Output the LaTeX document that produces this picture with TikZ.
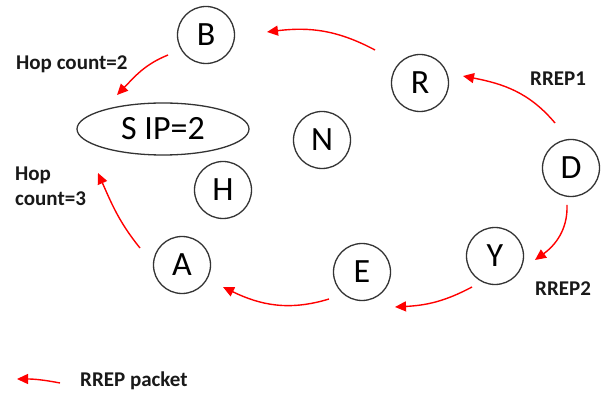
\documentclass[tikz,border=0pt]{standalone}
\usepackage{fontspec}
\setmainfont{Carlito}
\usetikzlibrary{arrows.meta,shapes.geometric,calc}
\begin{document}
\begin{tikzpicture}[x=1pt,y=1pt,
  peer/.style={circle,draw=black!80,line width=1.3pt,minimum size=57pt,inner sep=0pt,
    font=\fontsize{34}{34}\selectfont},
  src/.style={ellipse,draw=black!80,line width=1.3pt,minimum width=172pt,minimum height=52pt,
    inner sep=0pt,font=\fontsize{34}{34}\selectfont},
  tag/.style={font=\bfseries\fontsize{21}{25}\selectfont,text=black!90,inner sep=0pt},
  rrep/.style={draw=red,line width=1.4pt,-{Triangle[length=11pt,width=10pt]}}]
\useasboundingbox (0,0) rectangle (602,-395);

% nodes of the network
\node[peer] (B) at (206,-35)  {B};
\node[peer] (R) at (420,-83)  {R};
\node[peer] (N) at (322,-140) {N};
\node[peer] (D) at (571,-168) {D};
\node[peer] (H) at (223,-190) {H};
\node[peer] (Y) at (495,-256) {Y};
\node[peer] (E) at (362,-272) {E};
\node[peer] (A) at (182,-265) {A};
\node[src]  (S) at (163,-129) {S IP=2};

% route replies travelling back to the source
\draw[rrep] ($(R)+(-45,33)$)  to[out=152,in=7]   ($(B)+(61,3)$);
\draw[rrep] ($(D)+(-16,45)$)  to[out=130,in=-11] ($(R)+(43,7)$);
\draw[rrep] ($(D)+(-4,-37)$)  to[out=-88,in=36]  ($(Y)+(40,-4)$);
\draw[rrep] ($(Y)+(-23,-31)$) to[out=208,in=3]   ($(E)+(33,-35)$);
\draw[rrep] ($(E)+(-33,-27)$) to[out=197,in=-26] ($(A)+(41,-22)$);
\draw[rrep] ($(A)+(-42,17)$)  to[out=129,in=-66] ($(S)+(-65,-44)$);
\draw[rrep] ($(B)+(-38,-20)$) to[out=202,in=46]  ($(S)+(-46,34)$);

% labels
\node[tag,anchor=base west] (hc2) at (16,-70) {Hop count=2};
\node[tag,anchor=north west,align=left] (hc3) at (15,-166.7) {Hop\\count=3};
\node[tag,anchor=base west] (r1) at (530,-86) {RREP1};
\node[tag,anchor=base west] (r2) at (535,-295) {RREP2};

% legend
\coordinate (lg0) at (60,-383);
\coordinate (lg1) at (17,-379);
\draw[rrep] (lg0) to[out=169,in=0] (lg1);
\node[tag,anchor=base west] (lgt) at (80,-386) {RREP packet};
\end{tikzpicture}
\end{document}
